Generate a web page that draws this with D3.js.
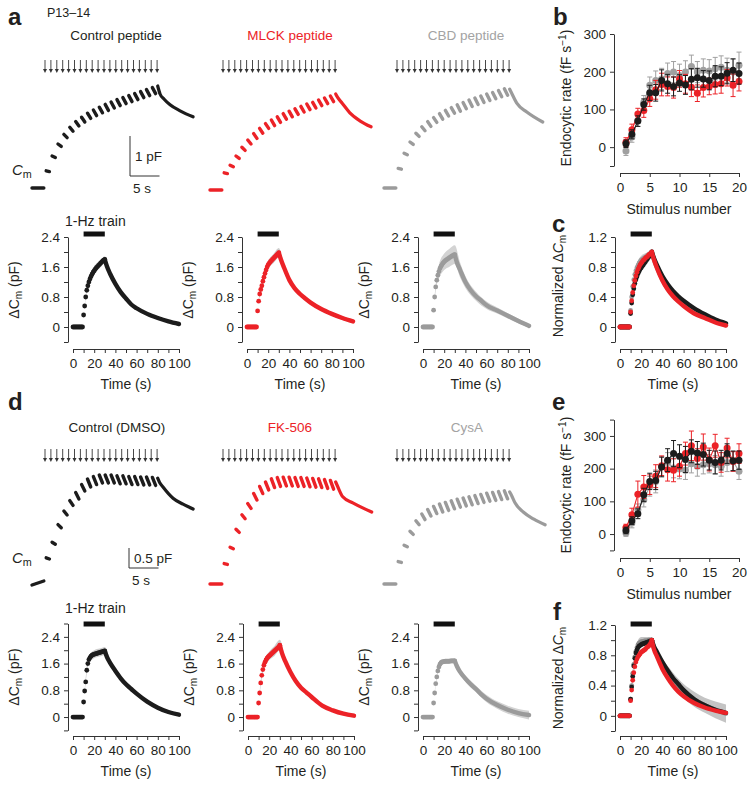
<!DOCTYPE html>
<html>
<head>
<meta charset="utf-8">
<script src="https://cdn.jsdelivr.net/npm/d3@7"></script>
<style>
  body { margin: 0; background: #fff; }
  svg text { font-family: "Liberation Sans", Arial, sans-serif; fill: #231f20; }
</style>
</head>
<body>
<svg id="fig" width="750" height="788"></svg>
<script>
// ---- example Cm traces (pF above baseline); one dash per inter-pulse interval ----
var pulseT = [0, 1, 2, 3, 4, 5, 6, 7, 8, 9, 10, 11, 12, 13, 14, 15, 16, 17, 18, 19];

var ctrlPepBase = [0, 0];
var ctrlPepStart = [0.43, 0.80, 1.10, 1.34, 1.52, 1.66, 1.77, 1.87, 1.95, 2.02, 2.09, 2.15, 2.21, 2.26, 2.31, 2.36, 2.41, 2.46, 2.51];
var ctrlPepEnd = [0.41, 0.76, 1.04, 1.26, 1.42, 1.55, 1.65, 1.74, 1.81, 1.88, 1.94, 2.00, 2.06, 2.11, 2.16, 2.21, 2.26, 2.31, 2.36];
var ctrlPepDecayT = [19.1, 19.5, 20.2, 21.2, 22.9, 25.1];
var ctrlPepDecayV = [2.55, 2.35, 2.22, 2.08, 1.93, 1.78];

var mlckBase = [0, 0];
var mlckStart = [0.43, 0.62, 0.85, 1.07, 1.25, 1.41, 1.54, 1.66, 1.75, 1.83, 1.91, 1.97, 2.03, 2.09, 2.15, 2.19, 2.25, 2.30, 2.35];
var mlckEnd = [0.41, 0.58, 0.79, 0.99, 1.15, 1.29, 1.42, 1.54, 1.61, 1.69, 1.77, 1.83, 1.89, 1.95, 2.01, 2.05, 2.11, 2.16, 2.21];
var mlckDecayT = [19.1, 19.4, 20.2, 21.5, 23.2, 25.1];
var mlckDecayV = [2.40, 2.32, 2.17, 1.93, 1.73, 1.58];

var cbdBase = [0, 0];
var cbdStart = [0.49, 0.87, 1.15, 1.37, 1.53, 1.66, 1.76, 1.86, 1.94, 2.01, 2.08, 2.14, 2.20, 2.25, 2.30, 2.35, 2.39, 2.44, 2.48];
var cbdEnd = [0.47, 0.83, 1.09, 1.29, 1.43, 1.54, 1.64, 1.72, 1.80, 1.87, 1.92, 1.98, 2.04, 2.09, 2.14, 2.19, 2.23, 2.28, 2.32];
var cbdDecayT = [19.1, 19.4, 20.3, 22.0, 24.7];
var cbdDecayV = [2.47, 2.38, 2.12, 1.90, 1.65];

var dmsoBase = [-0.05, 0.05];
var dmsoStart = [0.63, 1.02, 1.46, 1.80, 2.06, 2.26, 2.46, 2.60, 2.66, 2.70, 2.70, 2.70, 2.68, 2.68, 2.66, 2.66, 2.65, 2.65, 2.64];
var dmsoEnd = [0.60, 0.97, 1.38, 1.70, 1.94, 2.10, 2.30, 2.40, 2.46, 2.50, 2.50, 2.50, 2.48, 2.48, 2.46, 2.46, 2.45, 2.45, 2.44];
var dmsoDecayT = [19.1, 19.4, 20.0, 21.7, 23.4, 25.1];
var dmsoDecayV = [2.62, 2.52, 2.40, 2.12, 1.97, 1.85];

var fkBase = [0, 0];
var fkStart = [0.51, 0.92, 1.37, 1.73, 2.01, 2.26, 2.44, 2.55, 2.63, 2.66, 2.67, 2.67, 2.66, 2.66, 2.65, 2.64, 2.63, 2.61, 2.59];
var fkEnd = [0.49, 0.88, 1.29, 1.63, 1.89, 2.10, 2.26, 2.35, 2.41, 2.44, 2.45, 2.45, 2.44, 2.44, 2.43, 2.42, 2.41, 2.39, 2.37];
var fkDecayT = [19.1, 19.4, 20.3, 22.0, 25.2];
var fkDecayV = [2.55, 2.45, 2.18, 2.03, 1.80];

var cysBase = [0, 0];
var cysStart = [0.56, 0.97, 1.32, 1.58, 1.75, 1.86, 1.94, 2.00, 2.04, 2.08, 2.12, 2.15, 2.18, 2.21, 2.24, 2.27, 2.29, 2.31, 2.33];
var cysEnd = [0.54, 0.93, 1.24, 1.48, 1.61, 1.70, 1.76, 1.80, 1.84, 1.88, 1.92, 1.95, 1.98, 2.01, 2.04, 2.07, 2.09, 2.11, 2.13];
var cysDecayT = [19.1, 19.4, 20.0, 21.4, 23.2, 25.1];
var cysDecayV = [2.30, 2.22, 2.03, 1.80, 1.62, 1.48];

// ---- averaged ΔCm (pF) ----
var avgBaseT = [0, 1, 2, 3, 4, 5, 6, 7, 8, 9];
var avgTrainT = [10, 11, 12, 13, 14, 15, 16, 17, 18, 19, 20, 21, 22, 23, 24, 25, 26, 27, 28, 29, 30];
var avgDecayT = [30, 32, 35, 40, 45, 50, 55, 60, 70, 80, 90, 100];
var bandT = [11, 13, 15, 20, 25, 30, 35, 40, 50, 60, 70, 80, 90, 100];

var ctrlPepTrain = [0.32, 0.56, 0.80, 0.98, 1.10, 1.20, 1.28, 1.35, 1.41, 1.46, 1.50, 1.54, 1.58, 1.61, 1.64, 1.67, 1.70, 1.73, 1.76, 1.78, 1.80];
var ctrlPepDecay = [1.80, 1.62, 1.42, 1.15, 0.93, 0.76, 0.60, 0.50, 0.35, 0.24, 0.15, 0.08];
var ctrlPepSem = [0.03, 0.05, 0.06, 0.07, 0.08, 0.09, 0.07, 0.06, 0.05, 0.04, 0.04, 0.03, 0.03, 0.03];

var mlckTrain = [0.43, 0.69, 0.88, 1.00, 1.10, 1.22, 1.33, 1.43, 1.52, 1.60, 1.66, 1.70, 1.74, 1.77, 1.80, 1.83, 1.86, 1.89, 1.92, 1.95, 1.98];
var mlckDecay = [1.98, 1.80, 1.58, 1.25, 1.03, 0.88, 0.76, 0.65, 0.48, 0.35, 0.24, 0.15];
var mlckSem = [0.04, 0.06, 0.08, 0.10, 0.12, 0.13, 0.09, 0.07, 0.06, 0.05, 0.05, 0.05, 0.05, 0.05];

var cbdTrain = [0.45, 0.80, 1.07, 1.25, 1.38, 1.48, 1.56, 1.62, 1.67, 1.71, 1.74, 1.77, 1.79, 1.81, 1.83, 1.85, 1.87, 1.89, 1.90, 1.92, 1.93];
var cbdDecay = [1.93, 1.72, 1.52, 1.20, 0.98, 0.82, 0.70, 0.58, 0.44, 0.30, 0.16, 0.03];
var cbdSem = [0.06, 0.12, 0.18, 0.22, 0.24, 0.25, 0.20, 0.16, 0.12, 0.10, 0.08, 0.07, 0.06, 0.05];

var dmsoTrain = [0.45, 0.78, 1.05, 1.40, 1.60, 1.72, 1.78, 1.82, 1.85, 1.87, 1.88, 1.89, 1.90, 1.91, 1.92, 1.93, 1.94, 1.95, 1.96, 1.97, 1.98];
var dmsoDecay = [1.98, 1.80, 1.62, 1.38, 1.16, 0.98, 0.84, 0.70, 0.46, 0.28, 0.15, 0.07];
var dmsoSem = [0.05, 0.10, 0.12, 0.12, 0.12, 0.12, 0.10, 0.08, 0.07, 0.06, 0.05, 0.05, 0.05, 0.05];

var fkTrain = [0.42, 0.72, 1.02, 1.25, 1.42, 1.55, 1.64, 1.71, 1.76, 1.80, 1.83, 1.86, 1.89, 1.92, 1.95, 1.98, 2.01, 2.04, 2.07, 2.10, 2.15];
var fkDecay = [2.15, 1.92, 1.68, 1.35, 1.08, 0.88, 0.74, 0.60, 0.34, 0.20, 0.10, 0.04];
var fkSem = [0.05, 0.10, 0.12, 0.13, 0.15, 0.16, 0.10, 0.08, 0.06, 0.05, 0.05, 0.05, 0.05, 0.06];

var cysTrain = [0.42, 0.72, 1.00, 1.20, 1.38, 1.50, 1.58, 1.63, 1.65, 1.66, 1.66, 1.67, 1.67, 1.67, 1.67, 1.67, 1.68, 1.68, 1.68, 1.68, 1.68];
var cysDecay = [1.68, 1.52, 1.35, 1.15, 0.98, 0.84, 0.68, 0.55, 0.36, 0.22, 0.12, 0.06];
var cysSem = [0.04, 0.06, 0.07, 0.07, 0.07, 0.07, 0.08, 0.09, 0.10, 0.11, 0.11, 0.12, 0.12, 0.13];

// ---- normalized ΔCm ----
var normCtrlPepTrain = [0.18, 0.32, 0.43, 0.51, 0.58, 0.63, 0.67, 0.71, 0.74, 0.77, 0.79, 0.81, 0.83, 0.85, 0.87, 0.89, 0.91, 0.93, 0.95, 0.97, 1.00];
var normCtrlPepDecay = [1.00, 0.92, 0.82, 0.68, 0.57, 0.48, 0.41, 0.35, 0.25, 0.17, 0.10, 0.05];
var normCtrlPepSem = [0.02, 0.03, 0.03, 0.03, 0.03, 0.02, 0.02, 0.02, 0.02, 0.02, 0.02, 0.02, 0.02, 0.02];
var normMlckTrain = [0.20, 0.35, 0.46, 0.55, 0.62, 0.68, 0.73, 0.77, 0.80, 0.83, 0.85, 0.87, 0.89, 0.90, 0.92, 0.93, 0.94, 0.96, 0.97, 0.98, 1.00];
var normMlckDecay = [1.00, 0.90, 0.78, 0.62, 0.50, 0.41, 0.34, 0.28, 0.18, 0.12, 0.06, 0.02];
var normMlckSem = [0.02, 0.03, 0.03, 0.03, 0.03, 0.02, 0.02, 0.02, 0.02, 0.02, 0.02, 0.02, 0.02, 0.02];
var normCbdTrain = [0.22, 0.40, 0.54, 0.63, 0.70, 0.75, 0.79, 0.82, 0.85, 0.87, 0.89, 0.90, 0.91, 0.92, 0.93, 0.94, 0.95, 0.96, 0.97, 0.98, 1.00];
var normCbdDecay = [1.00, 0.90, 0.79, 0.63, 0.51, 0.42, 0.35, 0.30, 0.21, 0.14, 0.08, 0.03];
var normCbdSem = [0.03, 0.05, 0.06, 0.06, 0.05, 0.03, 0.04, 0.04, 0.04, 0.04, 0.04, 0.04, 0.04, 0.04];

var normDmsoTrain = [0.22, 0.38, 0.52, 0.66, 0.76, 0.83, 0.87, 0.90, 0.92, 0.93, 0.94, 0.95, 0.95, 0.96, 0.96, 0.97, 0.97, 0.98, 0.98, 0.99, 1.00];
var normDmsoDecay = [1.00, 0.92, 0.84, 0.71, 0.60, 0.50, 0.42, 0.34, 0.22, 0.14, 0.08, 0.04];
var normDmsoSem = [0.02, 0.03, 0.03, 0.03, 0.03, 0.02, 0.03, 0.03, 0.03, 0.03, 0.03, 0.03, 0.03, 0.03];
var normFkTrain = [0.20, 0.34, 0.47, 0.57, 0.65, 0.71, 0.75, 0.78, 0.80, 0.82, 0.84, 0.85, 0.86, 0.87, 0.88, 0.90, 0.91, 0.92, 0.94, 0.96, 1.00];
var normFkDecay = [1.00, 0.88, 0.78, 0.62, 0.50, 0.40, 0.32, 0.26, 0.17, 0.11, 0.07, 0.04];
var normFkSem = [0.02, 0.03, 0.03, 0.03, 0.03, 0.02, 0.02, 0.02, 0.02, 0.02, 0.02, 0.02, 0.02, 0.02];
var normCysTrain = [0.22, 0.40, 0.56, 0.68, 0.78, 0.85, 0.90, 0.94, 0.96, 0.97, 0.98, 0.98, 0.98, 0.99, 0.99, 0.99, 0.99, 1.00, 1.00, 1.00, 1.00];
var normCysDecay = [1.00, 0.90, 0.82, 0.69, 0.58, 0.49, 0.40, 0.33, 0.22, 0.14, 0.08, 0.03];
var normCysSem = [0.04, 0.08, 0.08, 0.06, 0.05, 0.04, 0.06, 0.07, 0.08, 0.09, 0.10, 0.10, 0.11, 0.12];

// ---- endocytic rate (fF/s) per stimulus ----
var stimNumber = [1, 2, 3, 4, 5, 6, 7, 8, 9, 10, 11, 12, 13, 14, 15, 16, 17, 18, 19, 20];
var rateCtrlPep = [9, 34, 69, 113, 144, 144, 177, 168, 161, 170, 165, 180, 184, 181, 177, 188, 188, 196, 204, 195];
var rateCtrlPepErr = [10, 12, 14, 15, 20, 22, 28, 25, 25, 22, 25, 28, 25, 22, 25, 28, 25, 28, 30, 28];
var rateMlck = [13, 46, 88, 97, 128, 152, 166, 161, 158, 181, 168, 159, 143, 158, 161, 166, 168, 184, 164, 174];
var rateMlckErr = [12, 15, 15, 18, 20, 25, 30, 25, 28, 22, 25, 25, 22, 25, 22, 25, 25, 22, 30, 25];
var rateCbd = [-10, 27, 71, 119, 164, 177, 181, 195, 199, 190, 199, 214, 199, 204, 202, 208, 212, 204, 199, 217];
var rateCbdErr = [12, 14, 16, 18, 22, 25, 28, 28, 28, 30, 30, 30, 28, 30, 30, 30, 30, 32, 35, 35];

var rateDmso = [11, 41, 62, 120, 161, 164, 205, 226, 246, 238, 228, 253, 248, 243, 226, 219, 226, 246, 224, 226];
var rateDmsoErr = [10, 12, 15, 20, 25, 28, 30, 35, 40, 35, 40, 35, 35, 35, 30, 35, 30, 30, 30, 28];
var rateFk = [20, 59, 122, 144, 151, 177, 209, 197, 195, 207, 246, 270, 231, 266, 228, 270, 219, 263, 222, 246];
var rateFkErr = [10, 20, 40, 35, 30, 35, 30, 35, 35, 30, 35, 45, 30, 40, 35, 35, 30, 30, 30, 30];
var rateCys = [3, 34, 74, 105, 146, 161, 207, 219, 202, 199, 195, 215, 207, 212, 215, 212, 207, 219, 222, 192];
var rateCysErr = [10, 15, 18, 22, 30, 35, 30, 30, 30, 30, 28, 28, 30, 28, 28, 28, 30, 28, 30, 25];

// ---- ticks ----
var timeTicks = [0, 10, 20, 30, 40, 50, 60, 70, 80, 90, 100];
var timeLabels = [0, 20, 40, 60, 80, 100];
var dcmTicksA = [-0.4, 0, 0.4, 0.8, 1.2, 1.6, 2.0, 2.4];
var dcmTicksD = [-0.4, 0, 0.4, 0.8, 1.2, 1.6, 2.0, 2.4, 2.8];
var dcmLabels = [0, 0.8, 1.6, 2.4];
var normTicks = [-0.2, 0, 0.2, 0.4, 0.6, 0.8, 1.0, 1.2];
var normLabels = [0, 0.4, 0.8, 1.2];
var stimTicks = [0, 5, 10, 15, 20];
var rateTicksB = [-50, 0, 100, 200, 300];
var rateTicksE = [-50, 0, 100, 200, 300, 350];
var rateLabels = [0, 100, 200, 300];

(function () {
  'use strict';

  var RED = '#ec2227', GRAY = '#9b9b9b', BLACK = '#1c1c1c', BAND = '#cdcdcd', AXIS = '#333';
  var PX_PER_S = 5.9, PX_PER_PF = 40;

  var svg = d3.select('#fig');
  var fmt = d3.format('~g');

  function richText(g, x, y, parts, size) {
    var t = g.append('text').attr('x', x).attr('y', y).attr('font-size', size);
    var shift = 0;
    parts.forEach(function (p) {
      var target = p.sub ? 3 : (p.sup ? -5 : 0);
      var ts = t.append('tspan').attr('dy', target - shift).text(p.t);
      shift = target;
      if (p.sub || p.sup) ts.attr('font-size', size * 0.72);
      if (p.italic) ts.attr('font-style', 'italic');
    });
    return t;
  }

  function rotatedLabel(cx, cy, parts, size) {
    var g = svg.append('g').attr('transform', 'translate(' + cx + ',' + cy + ') rotate(-90)');
    richText(g, 0, 0, parts, size).attr('text-anchor', 'middle');
  }

  function styleAxis(sel) {
    sel.select('.domain').attr('stroke', AXIS);
    sel.selectAll('.tick line').attr('stroke', AXIS);
    sel.selectAll('.tick text').attr('font-size', 13.5).attr('fill', '#231f20')
      .attr('font-family', '"Liberation Sans", Arial, sans-serif');
  }

  function labelOnly(list) {
    return function (d) { return list.indexOf(d) >= 0 ? fmt(d) : ''; };
  }

  // ---------- example traces ----------
  function drawTrace(tr) {
    var g = svg.append('g');
    var x = d3.scaleLinear().domain([0, 1]).range([tr.x0, tr.x0 + PX_PER_S]);
    var y = d3.scaleLinear().domain([0, 1]).range([tr.y0, tr.y0 - PX_PER_PF]);

    g.append('line')
      .attr('x1', x(-2.2)).attr('y1', y(tr.base[0]))
      .attr('x2', x(-0.2)).attr('y2', y(tr.base[1]))
      .attr('stroke', tr.color).attr('stroke-width', 3.4).attr('stroke-linecap', 'round');

    g.selectAll('line.dash').data(tr.starts).enter().append('line')
      .attr('class', 'dash')
      .attr('x1', function (d, i) { return x(pulseT[i] + 0.2); })
      .attr('y1', function (d) { return y(d); })
      .attr('x2', function (d, i) { return x(pulseT[i] + 0.75); })
      .attr('y2', function (d, i) { return y(tr.ends[i]); })
      .attr('stroke', tr.color).attr('stroke-width', 3.4).attr('stroke-linecap', 'round');

    var line = d3.line().curve(d3.curveMonotoneX)
      .x(function (d) { return x(d[0]); }).y(function (d) { return y(d[1]); });
    g.append('path')
      .datum(d3.zip(tr.decayT, tr.decayV))
      .attr('d', line).attr('fill', 'none')
      .attr('stroke', tr.color).attr('stroke-width', 3.2).attr('stroke-linecap', 'round');

    // stimulus arrows
    var ag = svg.append('g');
    pulseT.forEach(function (t) {
      var ax = x(t);
      ag.append('line').attr('x1', ax).attr('x2', ax).attr('y1', tr.arrowTop).attr('y2', tr.arrowTip - 3)
        .attr('stroke', '#333').attr('stroke-width', 0.9);
      ag.append('path')
        .attr('d', 'M' + (ax - 2) + ',' + (tr.arrowTip - 4) + 'L' + (ax + 2) + ',' + (tr.arrowTip - 4) + 'L' + ax + ',' + tr.arrowTip + 'Z')
        .attr('fill', '#333');
    });

    svg.append('text').attr('x', tr.titleX).attr('y', tr.titleY).attr('text-anchor', 'middle')
      .attr('font-size', 13.5).style('fill', tr.titleColor).text(tr.title);

    return { x: x, y: y };
  }

  function scaleBar(sc, px, py, pf, label) {
    var g = svg.append('g');
    var dy = sc.y(0) - sc.y(pf);
    var dx = sc.x(5) - sc.x(0);
    g.append('path')
      .attr('d', 'M' + px + ',' + (py - dy) + 'V' + py + 'H' + (px + dx))
      .attr('fill', 'none').attr('stroke', '#333').attr('stroke-width', 1);
    g.append('text').attr('x', px + 5).attr('y', py - dy / 2 + 5).attr('font-size', 13.5).text(label);
    g.append('text').attr('x', px + 3).attr('y', py + 17).attr('font-size', 13.5).text('5 s');
  }

  var rowA = [
    { x0: 45, y0: 188, base: ctrlPepBase, starts: ctrlPepStart, ends: ctrlPepEnd, decayT: ctrlPepDecayT, decayV: ctrlPepDecayV,
      color: BLACK, title: 'Control peptide', titleColor: '#231f20', titleX: 116 },
    { x0: 223, y0: 190, base: mlckBase, starts: mlckStart, ends: mlckEnd, decayT: mlckDecayT, decayV: mlckDecayV,
      color: RED, title: 'MLCK peptide', titleColor: RED, titleX: 290 },
    { x0: 397, y0: 188, base: cbdBase, starts: cbdStart, ends: cbdEnd, decayT: cbdDecayT, decayV: cbdDecayV,
      color: GRAY, title: 'CBD peptide', titleColor: '#a3a3a3', titleX: 466 }
  ];
  var rowD = [
    { x0: 45, y0: 583, base: dmsoBase, starts: dmsoStart, ends: dmsoEnd, decayT: dmsoDecayT, decayV: dmsoDecayV,
      color: BLACK, title: 'Control (DMSO)', titleColor: '#231f20', titleX: 117 },
    { x0: 223, y0: 584, base: fkBase, starts: fkStart, ends: fkEnd, decayT: fkDecayT, decayV: fkDecayV,
      color: RED, title: 'FK-506', titleColor: RED, titleX: 290 },
    { x0: 397, y0: 584, base: cysBase, starts: cysStart, ends: cysEnd, decayT: cysDecayT, decayV: cysDecayV,
      color: GRAY, title: 'CysA', titleColor: '#a3a3a3', titleX: 467 }
  ];

  var scA, scD;
  rowA.forEach(function (tr, i) {
    tr.arrowTop = 60; tr.arrowTip = 73; tr.titleY = 40;
    var sc = drawTrace(tr);
    if (i === 0) scA = sc;
  });
  rowD.forEach(function (tr, i) {
    tr.arrowTop = 449; tr.arrowTip = 462; tr.titleY = 432;
    var sc = drawTrace(tr);
    if (i === 0) scD = sc;
  });
  scaleBar(scA, 130, 176, 1, '1 pF');
  scaleBar(scD, 129, 568, 0.5, '0.5 pF');

  richText(svg, 12, 175, [{ t: 'C', italic: true }, { t: 'm', sub: true }], 15);
  richText(svg, 12, 563, [{ t: 'C', italic: true }, { t: 'm', sub: true }], 15);

  // ---------- averaged / normalized time courses ----------
  function valueAt(c, t) {
    var i = avgTrainT.indexOf(t);
    if (i >= 0) return c.train[i];
    return c.decay[avgDecayT.indexOf(t)];
  }

  function timePlot(opt) {
    var g = svg.append('g');
    var x = d3.scaleLinear().domain([0, 100]).range([opt.x0, opt.x0 + 106]);
    var y = d3.scaleLinear().domain(opt.yDomain).range(opt.yRange);

    g.append('g').attr('transform', 'translate(' + (opt.x0 - 5) + ',0)')
      .call(d3.axisLeft(y).tickValues(opt.yTicks).tickSize(4).tickSizeOuter(0).tickPadding(4)
        .tickFormat(labelOnly(opt.yLabels)))
      .call(styleAxis);
    g.append('g').attr('transform', 'translate(0,' + opt.xAxisY + ')')
      .call(d3.axisBottom(x).tickValues(timeTicks).tickSize(4).tickSizeOuter(0).tickPadding(5)
        .tickFormat(labelOnly(timeLabels)))
      .call(styleAxis);

    g.append('text').attr('x', opt.x0 + 53).attr('y', opt.xAxisY + 40).attr('text-anchor', 'middle')
      .attr('font-size', 14).text('Time (s)');

    // 1-Hz train bar
    g.append('line').attr('x1', x(10)).attr('x2', x(30)).attr('y1', opt.barY).attr('y2', opt.barY)
      .attr('stroke', '#111').attr('stroke-width', 5);

    var area = d3.area().curve(d3.curveMonotoneX)
      .x(function (d) { return x(d.t); })
      .y0(function (d) { return y(d.v - d.s); })
      .y1(function (d) { return y(d.v + d.s); });
    opt.curves.forEach(function (c) {
      var band = bandT.map(function (t, i) { return { t: t, v: valueAt(c, t), s: c.sem[i] }; });
      g.append('path').datum(band).attr('d', area).attr('fill', c.bandColor || BAND);
    });

    var line = d3.line().curve(d3.curveMonotoneX)
      .x(function (d) { return x(d[0]); }).y(function (d) { return y(d[1]); });
    opt.curves.forEach(function (c) {
      g.append('path').datum(d3.zip(avgDecayT, c.decay)).attr('d', line)
        .attr('fill', 'none').attr('stroke', c.color).attr('stroke-width', 4.4).attr('stroke-linecap', 'round');
      var pts = avgBaseT.map(function (t) { return [t, 0]; }).concat(d3.zip(avgTrainT, c.train));
      g.selectAll(null).data(pts).enter().append('circle')
        .attr('cx', function (d) { return x(d[0]); })
        .attr('cy', function (d) { return y(d[1]); })
        .attr('r', 2.4).attr('fill', c.color);
    });
    return g;
  }

  var aDom = [-0.4, 2.4], aRange = [342, 237];
  var dDom = [-0.4, 2.8], dRange = [730.4, 623.5];

  var avgA = [
    { x0: 73, curves: [{ train: ctrlPepTrain, decay: ctrlPepDecay, sem: ctrlPepSem, color: BLACK }] },
    { x0: 247, curves: [{ train: mlckTrain, decay: mlckDecay, sem: mlckSem, color: RED }] },
    { x0: 423, curves: [{ train: cbdTrain, decay: cbdDecay, sem: cbdSem, color: GRAY, bandColor: '#d3d3d3' }] }
  ];
  avgA.forEach(function (p) {
    timePlot({ x0: p.x0, yDomain: aDom, yRange: aRange, yTicks: dcmTicksA, yLabels: dcmLabels,
      xAxisY: 349, barY: 234, curves: p.curves });
    rotatedLabel(p.x0 - 54, 290, [{ t: 'ΔC' }, { t: 'm', sub: true }, { t: ' (pF)' }], 14);
  });

  var avgD = [
    { x0: 73, curves: [{ train: dmsoTrain, decay: dmsoDecay, sem: dmsoSem, color: BLACK }] },
    { x0: 248, curves: [{ train: fkTrain, decay: fkDecay, sem: fkSem, color: RED }] },
    { x0: 423, curves: [{ train: cysTrain, decay: cysDecay, sem: cysSem, color: GRAY, bandColor: '#d3d3d3' }] }
  ];
  avgD.forEach(function (p) {
    timePlot({ x0: p.x0, yDomain: dDom, yRange: dRange, yTicks: dcmTicksD, yLabels: dcmLabels,
      xAxisY: 736, barY: 624, curves: p.curves });
    rotatedLabel(p.x0 - 54, 677, [{ t: 'ΔC' }, { t: 'm', sub: true }, { t: ' (pF)' }], 14);
  });

  svg.append('text').attr('x', 65).attr('y', 226).attr('font-size', 14).text('1-Hz train');
  svg.append('text').attr('x', 65).attr('y', 613).attr('font-size', 14).text('1-Hz train');

  timePlot({ x0: 620, yDomain: [-0.2, 1.2], yRange: [342, 237], yTicks: normTicks, yLabels: normLabels,
    xAxisY: 349, barY: 234, curves: [
      { train: normCbdTrain, decay: normCbdDecay, sem: normCbdSem, color: GRAY },
      { train: normCtrlPepTrain, decay: normCtrlPepDecay, sem: normCtrlPepSem, color: BLACK },
      { train: normMlckTrain, decay: normMlckDecay, sem: normMlckSem, color: RED }
    ] });
  rotatedLabel(563, 286, [{ t: 'Normalized  Δ' }, { t: 'C', italic: true }, { t: 'm', sub: true }], 14);

  timePlot({ x0: 620, yDomain: [-0.2, 1.2], yRange: [731, 625], yTicks: normTicks, yLabels: normLabels,
    xAxisY: 736, barY: 624, curves: [
      { train: normCysTrain, decay: normCysDecay, sem: normCysSem, color: '#8a8a8a', bandColor: '#c4c4c4' },
      { train: normDmsoTrain, decay: normDmsoDecay, sem: normDmsoSem, color: BLACK },
      { train: normFkTrain, decay: normFkDecay, sem: normFkSem, color: RED }
    ] });
  rotatedLabel(563, 678, [{ t: 'Normalized Δ' }, { t: 'C', italic: true }, { t: 'm', sub: true }], 14);

  // ---------- endocytic rate ----------
  function ratePlot(opt) {
    var g = svg.append('g');
    var x = d3.scaleLinear().domain([0, 20]).range([620, 739]);
    var y = d3.scaleLinear().domain(opt.yDomain).range(opt.yRange);

    g.append('g').attr('transform', 'translate(614,0)')
      .call(d3.axisLeft(y).tickValues(opt.yTicks).tickSize(4).tickSizeOuter(0).tickPadding(4)
        .tickFormat(labelOnly(rateLabels)))
      .call(styleAxis);
    g.append('g').attr('transform', 'translate(0,' + opt.xAxisY + ')')
      .call(d3.axisBottom(x).tickValues(stimTicks).tickSize(4).tickSizeOuter(0).tickPadding(5)
        .tickFormat(fmt))
      .call(styleAxis);
    g.append('text').attr('x', 679).attr('y', opt.xAxisY + 41).attr('text-anchor', 'middle')
      .attr('font-size', 14).text('Stimulus number');

    var line = d3.line().x(function (d) { return x(d[0]); }).y(function (d) { return y(d[1]); });
    opt.series.forEach(function (s) {
      var pts = stimNumber.map(function (n, i) { return { n: n, v: s.vals[i], e: s.err[i] }; });
      var eg = g.append('g').attr('stroke', s.color).attr('stroke-width', 1);
      pts.forEach(function (p) {
        eg.append('path').attr('fill', 'none').attr('d',
          'M' + x(p.n) + ',' + y(p.v - p.e) + 'V' + y(p.v + p.e) +
          'M' + (x(p.n) - 2.5) + ',' + y(p.v + p.e) + 'h5' +
          'M' + (x(p.n) - 2.5) + ',' + y(p.v - p.e) + 'h5');
      });
      g.append('path').datum(d3.zip(stimNumber, s.vals)).attr('d', line)
        .attr('fill', 'none').attr('stroke', s.color).attr('stroke-width', 1.1);
      g.selectAll(null).data(pts).enter().append('circle')
        .attr('cx', function (d) { return x(d.n); })
        .attr('cy', function (d) { return y(d.v); })
        .attr('r', 3.5).attr('fill', s.color);
    });
  }

  ratePlot({ yDomain: [-50, 300], yRange: [166, 34], yTicks: rateTicksB, xAxisY: 173, series: [
    { vals: rateCbd, err: rateCbdErr, color: '#a0a0a0' },
    { vals: rateMlck, err: rateMlckErr, color: RED },
    { vals: rateCtrlPep, err: rateCtrlPepErr, color: BLACK }
  ] });
  rotatedLabel(571, 98, [{ t: 'Endocytic rate (fF s' }, { t: '−1', sup: true }, { t: ')' }], 14);

  ratePlot({ yDomain: [-50, 350], yRange: [550.4, 419.6], yTicks: rateTicksE, xAxisY: 558, series: [
    { vals: rateCys, err: rateCysErr, color: '#a0a0a0' },
    { vals: rateFk, err: rateFkErr, color: RED },
    { vals: rateDmso, err: rateDmsoErr, color: BLACK }
  ] });
  rotatedLabel(571, 485, [{ t: 'Endocytic rate (fF s' }, { t: '−1', sup: true }, { t: ')' }], 14);

  // ---------- panel letters ----------
  [['a', 8, 25], ['b', 553, 25], ['c', 552, 232], ['d', 8, 410], ['e', 552, 410], ['f', 553, 620]]
    .forEach(function (l) {
      svg.append('text').attr('x', l[1]).attr('y', l[2]).attr('font-size', 24).attr('font-weight', 'bold').text(l[0]);
    });
  svg.append('text').attr('x', 47).attr('y', 17).attr('font-size', 12.5).text('P13–14');
}());
</script>
</body>
</html>
